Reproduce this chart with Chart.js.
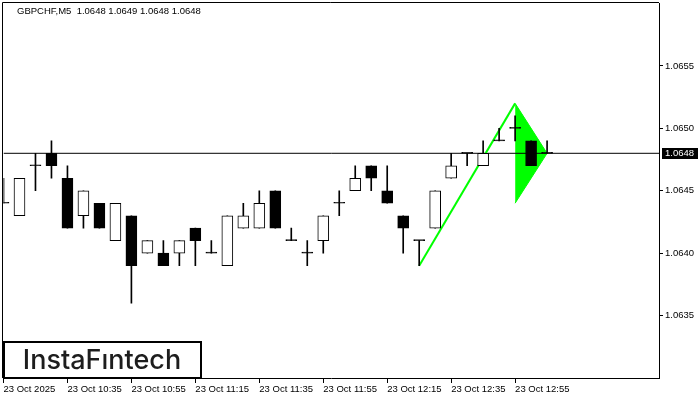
<!DOCTYPE html>
<html>
<head>
<meta charset="utf-8">
<script src="https://cdn.jsdelivr.net/npm/chart.js@4.4.1/dist/chart.umd.min.js"></script>
<style>
  html, body { margin: 0; padding: 0; background: #fff; }
  #wrap { width: 700px; height: 400px; }
</style>
</head>
<body>
<div id="wrap"><canvas id="chart" width="700" height="400"></canvas></div>
<script>
// GBPCHF M5 candles, 23 Oct 2025 from 10:15, one per 5 minutes
const symbol = 'GBPCHF,M5';
const opens  = [1.0644, 1.0643, 1.0647, 1.0648, 1.0646, 1.0643, 1.0644, 1.0641, 1.0643, 1.0640,
                1.0640, 1.0640, 1.0642, 1.0640, 1.0639, 1.0642, 1.0642, 1.0645, 1.0641, 1.0640,
                1.0641, 1.0644, 1.0645, 1.0647, 1.0645, 1.0643, 1.0641, 1.0642, 1.0646, 1.0648,
                1.0647, 1.0649, 1.0650, 1.0649, 1.0648];
const highs  = [1.0646, 1.0646, 1.0648, 1.0649, 1.0647, 1.0645, 1.0644, 1.0644, 1.0643, 1.0641,
                1.0641, 1.0641, 1.0642, 1.0641, 1.0643, 1.0644, 1.0645, 1.0645, 1.0642, 1.0641,
                1.0643, 1.0645, 1.0647, 1.0647, 1.0647, 1.0643, 1.0641, 1.0645, 1.0648, 1.0648,
                1.0649, 1.0650, 1.0651, 1.0649, 1.0649];
const lows   = [1.0644, 1.0643, 1.0645, 1.0646, 1.0642, 1.0642, 1.0642, 1.0641, 1.0636, 1.0640,
                1.0639, 1.0639, 1.0639, 1.0640, 1.0639, 1.0642, 1.0642, 1.0642, 1.0641, 1.0639,
                1.0640, 1.0643, 1.0645, 1.0645, 1.0644, 1.0640, 1.0639, 1.0642, 1.0646, 1.0647,
                1.0647, 1.0649, 1.0649, 1.0647, 1.0648];
const closes = [1.0644, 1.0646, 1.0647, 1.0647, 1.0642, 1.0645, 1.0642, 1.0644, 1.0639, 1.0641,
                1.0639, 1.0641, 1.0641, 1.0640, 1.0643, 1.0643, 1.0644, 1.0642, 1.0641, 1.0640,
                1.0643, 1.0644, 1.0646, 1.0646, 1.0644, 1.0642, 1.0641, 1.0645, 1.0647, 1.0648,
                1.0648, 1.0649, 1.0650, 1.0647, 1.0648];

const xTickIndex  = [0, 4, 8, 12, 16, 20, 24, 28, 32];
const xTickLabels = ['23 Oct 2025', '23 Oct 10:35', '23 Oct 10:55', '23 Oct 11:15', '23 Oct 11:35',
                     '23 Oct 11:55', '23 Oct 12:15', '23 Oct 12:35', '23 Oct 12:55'];
const yTicks = [1.0635, 1.0640, 1.0645, 1.0650, 1.0655];

// bullish pennant: flagpole + triangle
const poleX = [26, 32];
const poleY = [1.0639, 1.0652];
const pennantX = [32, 34];
const pennantUpper = [1.0652, 1.0648];
const pennantLower = [1.0644, 1.0648];

const last = closes.length - 1;
const lastPrice = closes[last];
const axisFont = { family: 'Liberation Sans', size: 9.5 };

const pts = (xs, ys) => xs.map((x, i) => ({ x: x, y: ys[i] }));

const bodies = opens.map((o, i) => ({ x: i, y: [o, closes[i]] }));
const wicks = lows.map((l, i) => ({ x: i, y: [l, highs[i]] }));
const bodyColors = opens.map((o, i) => closes[i] > o ? '#ffffff' : '#000000');

const extras = {
    id: 'extras',
    afterDraw(chart) {
        const ctx = chart.ctx;
        const a = chart.chartArea;
        const y = chart.scales.y;
        ctx.save();
        // top and left frame
        ctx.strokeStyle = '#000';
        ctx.lineWidth = 1;
        ctx.beginPath();
        ctx.moveTo(a.left - 1, a.bottom);
        ctx.lineTo(a.left - 1, a.top - 1);
        ctx.lineTo(a.right, a.top - 1);
        ctx.stroke();

        // header
        ctx.fillStyle = '#000';
        ctx.font = '9.5px "Liberation Sans"';
        ctx.textBaseline = 'middle';
        ctx.textAlign = 'left';
        const hdr = symbol + '  ' + [opens[last], highs[last], lows[last], closes[last]]
            .map(v => v.toFixed(4)).join(' ');
        ctx.fillText(hdr, 17, 11);

        // current price tag
        const py = Math.floor(y.getPixelForValue(lastPrice));
        ctx.fillStyle = '#000';
        ctx.fillRect(a.right + 3, py - 5, 36, 11);
        ctx.fillStyle = '#fff';
        ctx.fillText(lastPrice.toFixed(4), a.right + 6, py + 0.5);

        // logo box
        ctx.fillStyle = '#fff';
        ctx.fillRect(3, 341, 198, 37);
        ctx.lineWidth = 2;
        ctx.strokeRect(4, 342, 197, 36);
        ctx.fillStyle = '#1d1d1d';
        ctx.font = '500 27px Inter';
        ctx.textAlign = 'center';
        ctx.textBaseline = 'alphabetic';
        ctx.fillText('InstaF\u0131ntech', 102, 369);
        ctx.restore();
    }
};

new Chart(document.getElementById('chart'), {
    type: 'bar',
    data: {
        datasets: [
            { type: 'bar', data: bodies, backgroundColor: bodyColors, borderColor: '#000', borderWidth: 1,
              borderSkipped: false, barThickness: 11, minBarLength: 1, grouped: false, order: 0 },
            { type: 'bar', data: wicks, backgroundColor: '#000', borderWidth: 0,
              barThickness: 1, grouped: false, order: 1 },
            { type: 'line', data: pts(poleX, poleY), borderColor: '#00ff00', borderWidth: 2,
              pointRadius: 0, fill: false, order: 2 },
            { type: 'line', data: [{ x: 0, y: lastPrice }, { x: 41, y: lastPrice }],
              borderColor: '#000', borderWidth: 1, pointRadius: 0, fill: false, order: 3 },
            { type: 'line', data: pts(pennantX, pennantUpper), borderColor: '#00ff00', borderWidth: 1,
              backgroundColor: '#00ff00', pointRadius: 0, fill: '+1', order: 4 },
            { type: 'line', data: pts(pennantX, pennantLower), borderColor: '#00ff00', borderWidth: 1,
              pointRadius: 0, fill: false, order: 5 }
        ]
    },
    options: {
        responsive: false,
        animation: false,
        events: [],
        layout: { padding: { left: 3.5, top: 3.5, right: 0, bottom: 0 } },
        plugins: { legend: { display: false }, tooltip: { enabled: false } },
        scales: {
            x: {
                type: 'linear', min: 0, max: 41, offset: false,
                grid: { offset: false, drawOnChartArea: false, drawTicks: true, tickLength: 5, color: '#000' },
                border: { display: true, color: '#000', width: 1 },
                afterBuildTicks: s => { s.ticks = xTickIndex.map(v => ({ value: v })); },
                ticks: { color: '#000', font: axisFont, align: 'start', maxRotation: 0, autoSkip: false,
                         padding: 1, callback: (v, i) => xTickLabels[i] },
                afterFit: s => { s.height = 22; s.paddingLeft = 0; s.paddingRight = 0; }
            },
            y: {
                type: 'linear', position: 'right', min: 1.0630, max: 1.0660,
                grid: { drawOnChartArea: false, drawTicks: true, tickLength: 4, color: '#000' },
                border: { display: true, color: '#000', width: 1 },
                afterBuildTicks: s => { s.ticks = yTicks.map(v => ({ value: v })); },
                ticks: { color: '#000', font: axisFont, padding: 2, callback: v => v.toFixed(4) },
                afterFit: s => { s.width = 41; s.paddingTop = 0; s.paddingBottom = 0; }
            }
        }
    },
    plugins: [extras]
});
</script>
</body>
</html>
